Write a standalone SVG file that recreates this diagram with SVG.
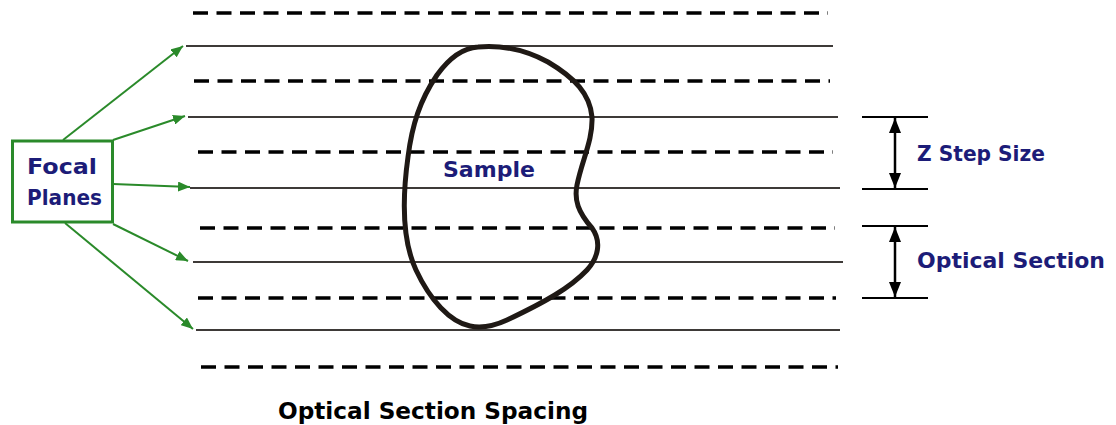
<svg xmlns="http://www.w3.org/2000/svg" width="1116" height="425" viewBox="0 0 1116 425">
<style>
.dash{stroke:#000;stroke-width:3.5;stroke-dasharray:15 8.5;fill:none}
.solid{stroke:#3e3a38;stroke-width:2;fill:none}
.green{stroke:#2a8a2a;stroke-width:2;fill:none}
.tick{stroke:#000;stroke-width:2}
.dim{stroke:#000;stroke-width:2.5}
.navy{fill:#1c1c78;font-family:"DejaVu Sans","Liberation Sans",sans-serif;font-weight:bold}
.blk{fill:#000;font-family:"DejaVu Sans","Liberation Sans",sans-serif;font-weight:bold}
</style>
<defs>
<marker id="ga" viewBox="0 0 10 10" refX="10" refY="5" markerWidth="12" markerHeight="10" markerUnits="userSpaceOnUse" orient="auto" preserveAspectRatio="none">
<path d="M0,0 L10,5 L0,10 z" fill="#2a8a2a"/>
</marker>
<marker id="ba" viewBox="0 0 10 10" refX="10" refY="5" markerWidth="15" markerHeight="12" markerUnits="userSpaceOnUse" orient="auto-start-reverse" preserveAspectRatio="none">
<path d="M0,0 L10,5 L0,10 z" fill="#000"/>
</marker>
</defs>
<rect width="1116" height="425" fill="#fff"/>
<g id="planes">
<line class="dash" x1="193" y1="13" x2="828" y2="13"/>
<line class="solid" x1="186" y1="46" x2="833" y2="46"/>
<line class="dash" x1="194" y1="81" x2="830" y2="81"/>
<line class="solid" x1="188" y1="117" x2="838" y2="117"/>
<line class="dash" x1="198" y1="152" x2="833" y2="152"/>
<line class="solid" x1="190" y1="188" x2="840" y2="188"/>
<line class="dash" x1="200" y1="228" x2="835" y2="228"/>
<line class="solid" x1="193" y1="262" x2="843" y2="262"/>
<line class="dash" x1="198" y1="298" x2="836" y2="298"/>
<line class="solid" x1="196" y1="330" x2="840" y2="330"/>
<line class="dash" x1="201" y1="367" x2="838" y2="367"/>
</g>
<g id="sample">
<path d="M478,47 C500,45 522,48 548,62 C575,78 590,94 592,117 C593,140 582,160 577,185 C574,200 578,212 592,228 C602,242 598,258 587,270 C570,288 545,302 507,320 C492,327 480,328 470,326 C450,322 430,300 416,270 C402,240 402,200 408,157 C412,125 420,100 437,75 C450,57 463,48 478,47 Z" fill="none" stroke="#1f1915" stroke-width="5"/>
<text class="navy" x="443" y="177" font-size="22" textLength="92" lengthAdjust="spacingAndGlyphs">Sample</text>
</g>
<g id="focal-planes">
<rect x="12.5" y="141" width="100" height="81" fill="#fff" stroke="#2a8a2a" stroke-width="3"/>
<text class="navy" x="27" y="174" font-size="22" textLength="70" lengthAdjust="spacingAndGlyphs">Focal</text>
<text class="navy" x="27" y="205" font-size="22" textLength="75" lengthAdjust="spacingAndGlyphs">Planes</text>
</g>
<g id="connectors">
<line class="green" x1="63" y1="140" x2="183" y2="46" marker-end="url(#ga)"/>
<line class="green" x1="113" y1="140" x2="185" y2="116" marker-end="url(#ga)"/>
<line class="green" x1="113" y1="184" x2="190" y2="187" marker-end="url(#ga)"/>
<line class="green" x1="113" y1="224" x2="188" y2="261" marker-end="url(#ga)"/>
<line class="green" x1="65" y1="223" x2="193" y2="329" marker-end="url(#ga)"/>
</g>
<g id="z-step-size">
<line class="tick" x1="862" y1="117" x2="928" y2="117"/>
<line class="tick" x1="862" y1="189" x2="928" y2="189"/>
<line class="dim" x1="895" y1="118" x2="895" y2="188" marker-start="url(#ba)" marker-end="url(#ba)"/>
<text class="navy" x="917" y="161" font-size="22" textLength="128" lengthAdjust="spacingAndGlyphs">Z Step Size</text>
</g>
<g id="optical-section">
<line class="tick" x1="862" y1="226" x2="928" y2="226"/>
<line class="tick" x1="862" y1="298" x2="928" y2="298"/>
<line class="dim" x1="895" y1="227" x2="895" y2="297" marker-start="url(#ba)" marker-end="url(#ba)"/>
<text class="navy" x="917" y="268" font-size="22" textLength="188" lengthAdjust="spacingAndGlyphs">Optical Section</text>
</g>
<g id="caption">
<text class="blk" x="278" y="419" font-size="23" textLength="310" lengthAdjust="spacingAndGlyphs">Optical Section Spacing</text>
</g>
</svg>
